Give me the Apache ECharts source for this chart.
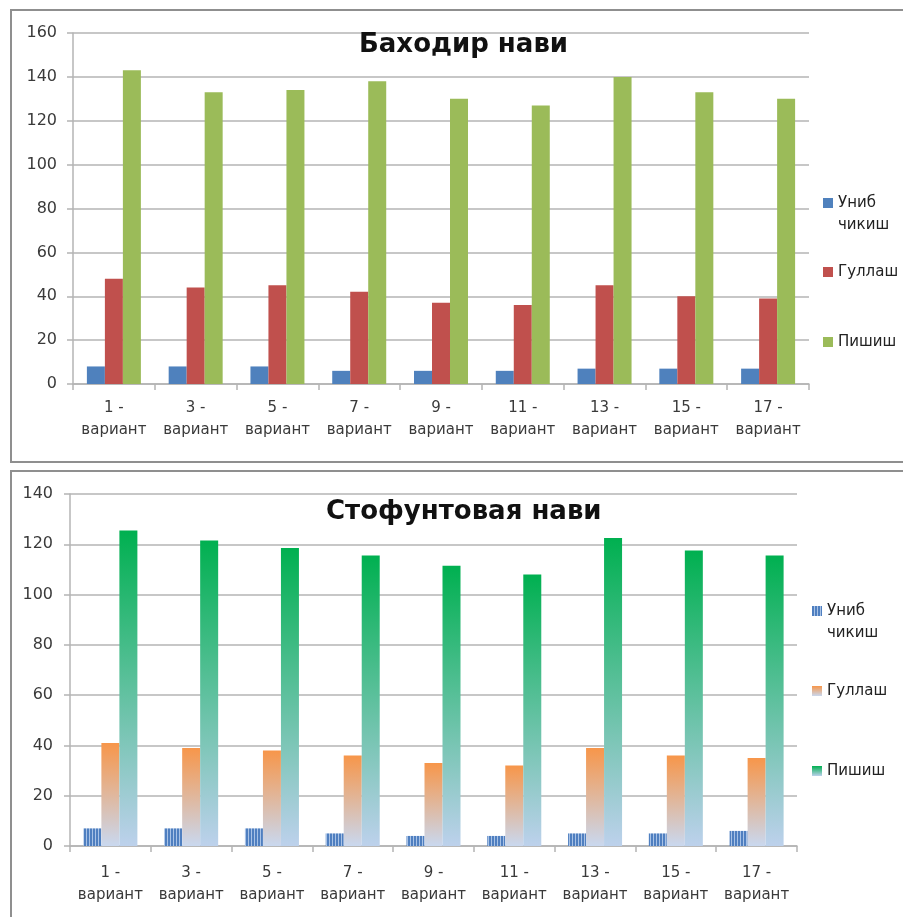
<!DOCTYPE html>
<html>
<head>
<meta charset="utf-8">
<script src="https://cdn.jsdelivr.net/npm/echarts@6/dist/echarts.min.js"></script>
<style>
  body { margin: 0; background: #fff; overflow: hidden; width: 903px; height: 917px; position: relative; }
  .panel { position: absolute; border: 2px solid #8f8f8f; box-sizing: border-box; }
  .chart { position: absolute; left: 0; width: 903px; }
</style>
</head>
<body>
<div class="panel" style="left:10px;top:9px;width:1000px;height:454px;"></div>
<div class="panel" style="left:10px;top:470px;width:1000px;height:500px;"></div>
<div id="chart1" class="chart" style="top:0;height:465px;"></div>
<div id="chart2" class="chart" style="top:465px;height:452px;"></div>
<script>
// categories and series
const categories = ['1 - вариант', '3 - вариант', '5 - вариант', '7 - вариант', '9 - вариант',
    '11 - вариант', '13 - вариант', '15 - вариант', '17 - вариант']
const seriesNames = ['Униб чикиш', 'Гуллаш', 'Пишиш']

const title1 = 'Баходир нави'
const unib1 = [8, 8, 8, 6, 6, 6, 7, 7, 7]
const gullash1 = [48, 44, 45, 42, 37, 36, 45, 40, 39]
const pishish1 = [143, 133, 134, 138, 130, 127, 140, 133, 130]

const title2 = 'Стофунтовая нави'
const unib2 = [7, 7, 7, 5, 4, 4, 5, 5, 6]
const gullash2 = [41, 39, 38, 36, 33, 32, 39, 36, 35]
const pishish2 = [125.5, 121.5, 118.5, 115.5, 111.5, 108, 122.5, 117.5, 115.5]

const labelColor = '#3a3a3a'
const gridColor = '#b4b4b4'
const fontFamily = '"DejaVu Sans", sans-serif'

// striped pattern for the bottom chart's blue bars
const stripe = document.createElement('canvas')
stripe.width = 3
stripe.height = 3
const sctx = stripe.getContext('2d')
sctx.fillStyle = '#4f7fc0'
sctx.fillRect(0, 0, 3, 3)
sctx.fillStyle = '#a8c2e6'
sctx.fillRect(2, 0, 1, 3)

function grad(top, bottom) {
    return new echarts.graphic.LinearGradient(0, 0, 0, 1, [
        { offset: 0, color: top },
        { offset: 1, color: bottom }
    ])
}

// icon with the square sitting at the top of a taller box (for the two-line legend entry)
const topSquare = 'path://M0,0H10V10H0Z M0,31.9H0.1V32H0Z'

function legends(left, tops) {
    return seriesNames.map((name, i) => ({
        data: [name],
        orient: 'vertical',
        left: left,
        top: tops[i],
        padding: 0,
        itemWidth: 10,
        itemHeight: i === 0 ? 32 : 10,
        itemGap: 5,
        icon: i === 0 ? topSquare : 'rect',
        symbolKeepAspect: false,
        selectedMode: false,
        formatter: n => n.replace(' ', '\n'),
        textStyle: { fontFamily: fontFamily, fontSize: 15, color: '#222', lineHeight: 22 }
    }))
}

function buildOption(cfg) {
    return {
        animation: false,
        title: {
            text: cfg.title,
            left: cfg.titleLeft,
            top: cfg.titleTop,
            padding: 0,
            textStyle: { fontFamily: fontFamily, fontWeight: 'bold', fontSize: 26, color: '#111', lineHeight: 30 }
        },
        legend: legends(cfg.legendLeft, cfg.legendTops),
        grid: cfg.grid,
        xAxis: {
            type: 'category',
            data: categories,
            axisLine: { lineStyle: { color: gridColor, width: 1.5 } },
            axisTick: { show: true, length: 6, lineStyle: { color: gridColor, width: 1.5 } },
            axisLabel: {
                interval: 0,
                margin: cfg.xMargin,
                color: labelColor,
                fontFamily: fontFamily,
                fontSize: 15,
                lineHeight: 22,
                formatter: v => v.replace(' - ', ' -\n')
            }
        },
        yAxis: {
            type: 'value',
            min: 0,
            max: cfg.yMax,
            interval: 20,
            axisLine: { show: true, lineStyle: { color: gridColor, width: 1.5 } },
            axisTick: { show: true, length: 6, lineStyle: { color: gridColor, width: 1.5 } },
            splitLine: { lineStyle: { color: gridColor, width: 1.5 } },
            axisLabel: { margin: cfg.yMargin, color: labelColor, fontFamily: fontFamily, fontSize: 16 }
        },
        series: cfg.data.map((vals, i) => ({
            name: seriesNames[i],
            type: 'bar',
            data: vals,
            barWidth: 18,
            barGap: '0%',
            itemStyle: { color: cfg.colors[i] }
        }))
    }
}

const chart1 = echarts.init(document.getElementById('chart1'), null, { renderer: 'canvas' })
chart1.setOption(buildOption({
    title: title1,
    titleLeft: 359,
    titleTop: 30,
    legendLeft: 823,
    legendTops: [192, 261, 331],
    grid: { left: 73, top: 33, width: 736, height: 351 },
    xMargin: 13,
    yMargin: 16,
    yMax: 160,
    data: [unib1, gullash1, pishish1],
    colors: ['#4f81bd', '#c0504d', '#9bbb59']
}))

const chart2 = echarts.init(document.getElementById('chart2'), null, { renderer: 'canvas' })
chart2.setOption(buildOption({
    title: title2,
    titleLeft: 326,
    titleTop: 32,
    legendLeft: 812,
    legendTops: [135, 215, 295],
    grid: { left: 70, top: 29, width: 727, height: 352 },
    xMargin: 16,
    yMargin: 17,
    yMax: 140,
    data: [unib2, gullash2, pishish2],
    colors: [
        { image: stripe, repeat: 'repeat' },
        grad('#f7964a', '#c9d8ef'),
        grad('#00b050', '#bdd1ec')
    ]
}))
</script>
</body>
</html>
